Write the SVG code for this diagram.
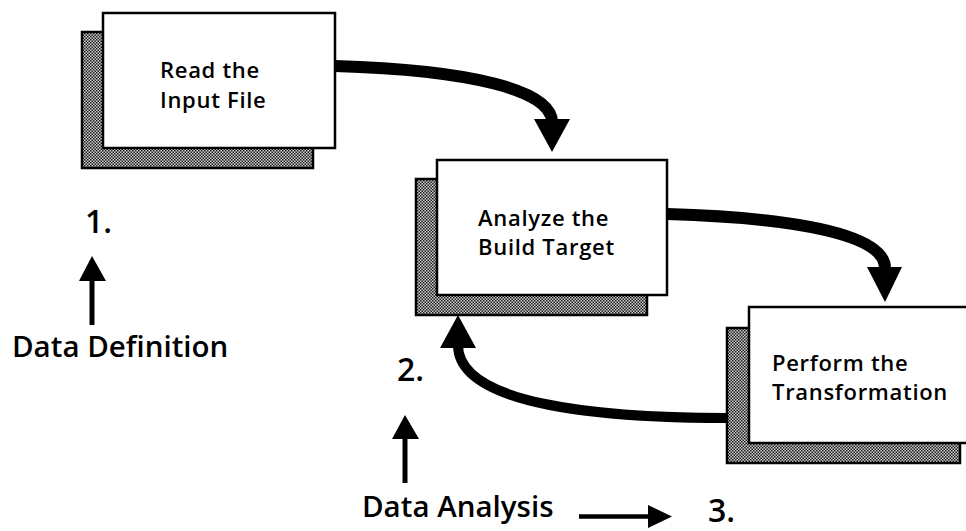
<svg xmlns="http://www.w3.org/2000/svg" width="966" height="531" viewBox="0 0 966 531">
  <defs>
    <!-- fine dithered fill used for the drop shadows -->
    <pattern id="dither" width="3" height="3" patternUnits="userSpaceOnUse">
      <rect width="3" height="3" fill="#cfcfcf"/>
      <rect x="0" y="0" width="1.5" height="1.5" fill="#1a1a1a"/>
      <rect x="1.5" y="1.5" width="1.5" height="1.5" fill="#1a1a1a"/>
    </pattern>
    <style>
      .shadow { fill: url(#dither); stroke: #000; stroke-width: 2.5; }
      .card { fill: #fff; stroke: #000; stroke-width: 2.5; }
      .label { font-family: "Open Sans", "Liberation Sans", sans-serif; font-weight: 600; fill: #000; }
      .node-text { font-size: 22px; letter-spacing: 0.7px; }
      .big { font-size: 29.5px; }
      .num { font-size: 32px; }
      .flow { fill: none; stroke: #000; stroke-linecap: butt; }
      .head { fill: #000; }
    </style>
  </defs>

  <rect width="966" height="531" fill="#fff"/>

  <!-- step 1 -->
  <g id="read-input">
    <rect class="shadow" x="82" y="32" width="231" height="136"/>
    <rect class="card" x="103" y="13" width="232" height="135"/>
    <text class="label node-text" x="160" y="78">Read the</text>
    <text class="label node-text" x="160" y="108">Input  File</text>
  </g>

  <!-- step 2 -->
  <g id="analyze-target">
    <rect class="shadow" x="416" y="179" width="231" height="136"/>
    <rect class="card" x="437" y="160" width="230" height="135"/>
    <text class="label node-text" x="478" y="226">Analyze the</text>
    <text class="label node-text" x="478" y="255">Build Target</text>
  </g>

  <!-- step 3 -->
  <g id="perform-transformation">
    <rect class="shadow" x="727" y="328" width="233" height="135"/>
    <rect class="card" x="749" y="307" width="232" height="136"/>
    <text class="label node-text" x="772" y="371">Perform the</text>
    <text class="label node-text" x="772" y="400">Transformation</text>
  </g>

  <!-- connectors between the steps -->
  <g id="connectors">
    <path class="flow" stroke-width="12" d="M335,66 C470,70 552,90 552,122"/>
    <polygon class="head" points="534,119 570,119 552,152"/>

    <path class="flow" stroke-width="12" d="M667,214 C800,218 885,235 885,268"/>
    <polygon class="head" points="867,267 902,267 885,302"/>

    <path class="flow" stroke-width="10" d="M727,418 C600,418 458,405 458,345"/>
    <polygon class="head" points="440,348 476,348 458,315"/>

    <!-- phase pointers -->
    <line class="flow" stroke-width="5" x1="92" y1="280" x2="92" y2="325"/>
    <polygon class="head" points="79,281 106,281 92,256"/>

    <line class="flow" stroke-width="5" x1="405" y1="438" x2="405" y2="483"/>
    <polygon class="head" points="392,439 419,439 405,415"/>

    <line class="flow" stroke-width="4.5" x1="579" y1="516.5" x2="650" y2="516.5"/>
    <polygon class="head" points="648,505 648,528 672,516.5"/>
  </g>

  <!-- phase labels -->
  <g id="phase-labels">
    <text class="label num" x="85" y="233">1.</text>
    <text class="label big" x="12" y="357">Data Definition</text>
    <text class="label num" x="397" y="381">2.</text>
    <text class="label big" x="362" y="517">Data Analysis</text>
    <text class="label num" x="708" y="522">3.</text>
  </g>
</svg>
